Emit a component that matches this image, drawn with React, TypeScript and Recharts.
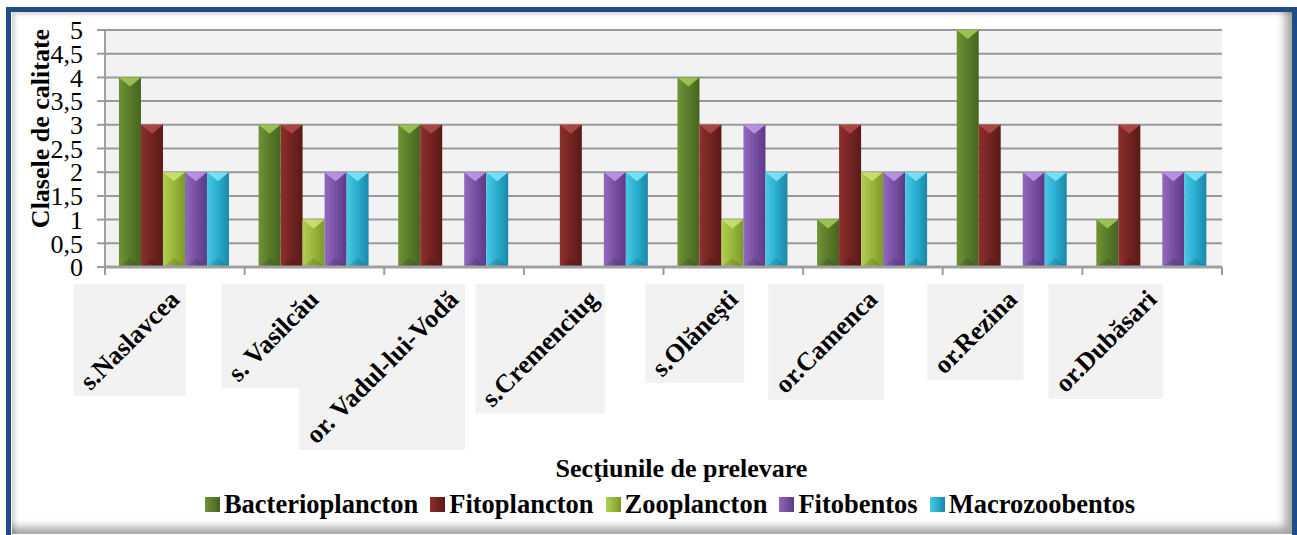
import React from "react";
import { BarChart, Bar, XAxis, YAxis, CartesianGrid, Legend } from "recharts";

const sites = [
  "s.Naslavcea",
  "s. Vasilcău",
  "or. Vadul-lui-Vodă",
  "s.Cremenciug",
  "s.Olăneşti",
  "or.Camenca",
  "or.Rezina",
  "or.Dubăsari",
];
const bacterioplancton = [4, 3, 3, 0, 4, 1, 5, 1];
const fitoplancton = [3, 3, 3, 3, 3, 3, 3, 3];
const zooplancton = [2, 1, 0, 0, 1, 2, 0, 0];
const fitobentos = [2, 2, 2, 2, 3, 2, 2, 2];
const macrozoobentos = [2, 2, 2, 2, 2, 2, 2, 2];
const yTicks = [0, 0.5, 1, 1.5, 2, 2.5, 3, 3.5, 4, 4.5, 5];

const series = [
  { key: "bact", name: "Bacterioplancton", values: bacterioplancton, c: ["#6f9236", "#5c7d2b", "#46641f"], top: "#a6cc5a" },
  { key: "fito", name: "Fitoplancton", values: fitoplancton, c: ["#8c302c", "#762522", "#5a1a18"], top: "#b04c49" },
  { key: "zoo", name: "Zooplancton", values: zooplancton, c: ["#b0ce52", "#9bba3c", "#7c9828"], top: "#cce476" },
  { key: "fb", name: "Fitobentos", values: fitobentos, c: ["#9068bc", "#7a52a6", "#5c3a88"], top: "#c49cec" },
  { key: "mz", name: "Macrozoobentos", values: macrozoobentos, c: ["#48c8e4", "#2cb0d2", "#1a88a8"], top: "#86e6fa" },
];

const data = sites.map((site, i) => {
  const row: Record<string, any> = { site };
  series.forEach((s) => (row[s.key] = s.values[i]));
  return row;
});

const W = 1297;
const H = 535;
const PLOT_LEFT = 105;
const PLOT_RIGHT = 1222;
const PLOT_TOP = 30;
const PLOT_BOTTOM = 267;
const BAND = (PLOT_RIGHT - PLOT_LEFT) / sites.length;
const FONT = "'Liberation Serif', 'Times New Roman', serif";
const LABEL_SIZE = 26;

let ctx: CanvasRenderingContext2D | null = null;
const measure = (t: string) => {
  if (!ctx) ctx = document.createElement("canvas").getContext("2d");
  if (!ctx) return t.length * 13;
  ctx.font = `bold ${LABEL_SIZE}px 'Liberation Serif'`;
  return ctx.measureText(t).width;
};

// box of a -45deg label: top at axis + 17, right edge 11px past the category centre
const labelBox = (label: string, cx: number, axisY: number) => {
  const s = (measure(label) + 31) * Math.SQRT1_2;
  const right = cx + 11;
  const top = axisY + 17;
  return { x: right - s, y: top, s, mx: right - s / 2, my: top + s / 2 };
};

function SiteTick(props: any) {
  const { x, y, payload, index } = props;
  const half = BAND / 2;
  const b = labelBox(payload.value, x, y);
  return (
    <g>
      {/* all grey boxes are drawn with the first tick so no box covers a label */}
      {index === 0 &&
        sites.map((s, i) => {
          const bi = labelBox(s, x + i * BAND, y);
          return <rect key={s} x={bi.x} y={bi.y} width={bi.s} height={bi.s} fill="#f2f2f2" />;
        })}
      <line x1={x - half} y1={y} x2={x - half} y2={y + 8} stroke="#9c9c9c" strokeWidth={2} />
      {index === sites.length - 1 && (
        <line x1={x + half} y1={y} x2={x + half} y2={y + 8} stroke="#9c9c9c" strokeWidth={2} />
      )}
      <text
        x={b.mx}
        y={b.my}
        textAnchor="middle"
        dominantBaseline="central"
        transform={`rotate(-45 ${b.mx} ${b.my})`}
        fontFamily={FONT}
        fontWeight="bold"
        fontSize={LABEL_SIZE}
        fill="#000"
      >
        {payload.value}
      </text>
    </g>
  );
}

const makeShape = (s: (typeof series)[number]) => (props: any) => {
  const { x, y, width, height } = props;
  if (!height || height < 1) return null;
  const tri = Math.min(9, height / 2);
  return (
    <g>
      <rect x={x} y={y} width={width} height={height} fill={`url(#grad-${s.key})`} />
      <polygon points={`${x},${y} ${x + width},${y} ${x + width / 2},${y + tri}`} fill={s.top} opacity={0.85} />
      <polygon
        points={`${x},${y + height} ${x + width},${y + height} ${x + width / 2},${y + height - tri}`}
        fill="#000"
        opacity={0.12}
      />
    </g>
  );
};

const renderLegend = () => (
  <div
    style={{
      display: "flex",
      justifyContent: "center",
      alignItems: "center",
      fontFamily: FONT,
      fontWeight: "bold",
      fontSize: 26.5,
      color: "#000",
      paddingLeft: 55,
    }}
  >
    {series.map((s) => (
      <span key={s.key} style={{ display: "flex", alignItems: "center", marginRight: 12 }}>
        <span
          style={{
            width: 15,
            height: 15,
            marginRight: 4,
            background: `linear-gradient(to right, ${s.c[0]}, ${s.c[1]} 45%, ${s.c[2]})`,
          }}
        />
        {s.name}
      </span>
    ))}
  </div>
);

export default function App() {
  return (
    <div style={{ position: "absolute", left: 0, top: 0, width: W, height: H, overflow: "hidden", background: "#fff" }}>
      <div
        style={{
          position: "absolute",
          left: 6,
          top: 7,
          width: W - 6,
          height: H + 10,
          border: "5px solid #1f4b87",
          boxSizing: "border-box",
        }}
      />
      <div
        style={{
          position: "absolute",
          left: 12,
          top: 12,
          width: 1280,
          height: 522,
          background: "#fff",
          boxShadow: "inset -12px -12px 8px -5px rgba(0,0,0,0.35), inset 5px 4px 4px -2px rgba(0,0,0,0.18)",
        }}
      />
      <div style={{ position: "absolute", left: 0, top: 0 }}>
        <BarChart
          width={W}
          height={H}
          data={data}
          margin={{ top: PLOT_TOP, right: W - PLOT_RIGHT, left: 0, bottom: 0 }}
          barCategoryGap="10%"
          barGap={0}
        >
          <defs>
            {series.map((s) => (
              <linearGradient key={s.key} id={`grad-${s.key}`} x1="0" y1="0" x2="1" y2="0">
                <stop offset="0%" stopColor={s.c[0]} />
                <stop offset="45%" stopColor={s.c[1]} />
                <stop offset="100%" stopColor={s.c[2]} />
              </linearGradient>
            ))}
          </defs>
          <CartesianGrid vertical={false} stroke="#999" strokeWidth={2} fill="#f2f2f2" fillOpacity={1} />
          <XAxis
            dataKey="site"
            height={H - PLOT_BOTTOM}
            tick={<SiteTick />}
            tickLine={false}
            tickSize={0}
            tickMargin={0}
            interval={0}
            axisLine={{ stroke: "#a0a0a0", strokeWidth: 3 }}
            label={{
              content: ({ viewBox }: any) => (
                <text
                  x={viewBox.x + viewBox.width / 2 + 18}
                  y={viewBox.y + 210}
                  textAnchor="middle"
                  fontFamily={FONT}
                  fontWeight="bold"
                  fontSize={26}
                  fill="#000"
                >
                  Secţiunile de prelevare
                </text>
              ),
            }}
          />
          <YAxis
            width={PLOT_LEFT}
            domain={[0, 5]}
            ticks={yTicks}
            interval={0}
            tickFormatter={(v: number) => String(v).replace(".", ",")}
            tick={{ fontFamily: FONT, fontSize: 26, fill: "#000" }}
            tickSize={8}
            tickMargin={14}
            tickLine={{ stroke: "#999", strokeWidth: 2 }}
            axisLine={{ stroke: "#a0a0a0", strokeWidth: 2 }}
            label={{
              content: ({ viewBox }: any) => {
                const lx = viewBox.x + 40;
                const ly = viewBox.y + viewBox.height / 2 - 20;
                return (
                  <text
                    x={lx}
                    y={ly}
                    transform={`rotate(-90 ${lx} ${ly})`}
                    textAnchor="middle"
                    dominantBaseline="central"
                    fontFamily={FONT}
                    fontWeight="bold"
                    fontSize={26}
                    fill="#000"
                  >
                    Clasele de calitate
                  </text>
                );
              },
            }}
          />
          <Legend
            layout="horizontal"
            verticalAlign="middle"
            content={renderLegend}
            wrapperStyle={{ top: 489, left: 0, width: W }}
          />
          {series.map((s) => (
            <Bar key={s.key} dataKey={s.key} name={s.name} shape={makeShape(s)} isAnimationActive={false} />
          ))}
        </BarChart>
      </div>
    </div>
  );
}
